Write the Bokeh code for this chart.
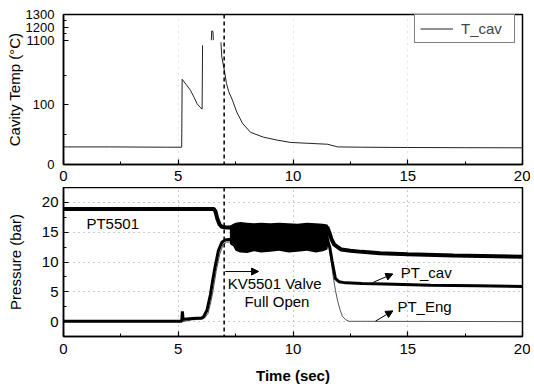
import numpy as np
from bokeh.plotting import figure
from bokeh.layouts import column
from bokeh.models import FixedTicker, Span, Label, Arrow, NormalHead, Legend, LegendItem
from bokeh.embed import file_html
from bokeh.resources import INLINE

nan = float("nan")

# ---------------- data ----------------
# Top panel: cavity temperature (deg C); nan = line hidden in the axis break
temp_time = [0.0, 2.0, 4.5, 5.15, 5.17, 5.35, 5.53, 5.7, 5.82, 5.95, 6.04, 6.06, 6.2,
             6.44, 6.46, 6.51, 6.53, 6.7,
             6.86, 6.9, 7.0, 7.1, 7.2, 7.36, 7.55, 7.8, 8.15, 8.7, 9.3, 9.9, 10.7,
             11.5, 11.95, 13.0, 15.0, 17.5, 20.0]
temp_cav = [29.5, 29.5, 29.0, 29.0, 143.0, 134.0, 124.7, 112.0, 102.0, 96.0, 93.0, 200.0, nan,
            1095.0, 1172.0, 1170.0, 1095.0, nan,
            205.0, 180.0, 160.0, 136.0, 122.0, 108.0, 88.0, 69.0, 54.0, 46.0, 41.0, 37.0, 35.5,
            34.0, 29.5, 29.0, 28.5, 28.2, 28.0]

# Bottom panel: pressures (bar)
pt5501_time = [0.0, 6.55, 6.62, 6.7, 6.8, 6.9, 7.1, 7.3, 9.0, 11.5, 11.58, 11.68, 11.8,
               11.95, 12.1, 12.5, 13.0, 13.8, 15.0, 17.0, 20.0]
pt5501 = [18.9, 18.9, 18.5, 17.3, 16.3, 15.9, 15.8, 15.8, 15.8, 15.8, 15.0, 13.8, 12.9,
          12.5, 12.1, 11.9, 11.7, 11.45, 11.3, 11.1, 10.9]

ptcav_time = [0.0, 5.15, 5.18, 5.21, 5.26, 5.6, 6.0, 6.1, 6.25, 6.4, 6.5, 6.6, 6.75, 6.9,
              7.05, 7.3, 9.0, 11.5, 11.6, 11.7, 11.85, 12.0, 12.3, 13.0, 14.0, 16.0, 18.0, 20.0]
pt_cav = [0.05, 0.05, 1.7, 0.4, 0.4, 0.5, 0.6, 0.8, 1.9, 4.5, 6.9, 9.1, 11.9, 13.3,
          13.7, 13.8, 13.8, 13.8, 12.5, 10.2, 7.2, 6.7, 6.5, 6.4, 6.3, 6.1, 6.0, 5.9]

pteng_time = [0.0, 5.2, 5.6, 6.05, 6.15, 6.3, 6.45, 6.55, 6.65, 6.8, 6.95, 7.1, 7.3, 9.0,
              11.5, 11.58, 11.65, 11.75, 11.85, 11.95, 12.05, 12.15, 12.3, 12.45, 20.0]
pt_eng = [0.0, 0.0, 0.3, 0.4, 0.6, 1.4, 3.8, 6.0, 8.4, 11.2, 12.9, 13.3, 13.4, 13.4,
          13.4, 12.3, 10.5, 7.6, 5.2, 3.4, 2.0, 0.9, 0.3, 0.05, 0.0]

# oscillation envelope while the valve is open
band_time = [7.25, 7.4, 7.5, 7.7, 8.0, 8.3, 8.6, 9.0, 9.4, 9.8, 10.2, 10.6, 11.0, 11.3, 11.5, 11.56]
band_high = [16.1, 16.4, 16.6, 16.7, 16.6, 16.5, 16.6, 16.5, 16.6, 16.5, 16.4, 16.6, 16.5, 16.4, 16.3, 15.8]
band_low = [13.0, 12.6, 11.9, 11.6, 11.5, 11.8, 11.6, 11.7, 11.9, 11.6, 11.7, 11.9, 11.6, 11.8, 12.1, 13.5]

x_ticks = [0, 5, 10, 15, 20]
x_minor = [2.5, 7.5, 12.5, 17.5]
temp_low_ticks = [0, 100]
temp_low_minor = [50, 150]
temp_high_ticks = [1100, 1200, 1300]
temp_high_minor = [1150, 1250]
p_ticks = [0, 5, 10, 15, 20]
p_minor = [2.5, 7.5, 12.5, 17.5]
valve_time = 7.0

FONT = "Liberation Sans"

# ---------------- broken temperature axis ----------------
LOW_TOP = 205.0      # top of lower segment
HIGH_BASE = 1100.0   # bottom of upper segment
HIGH_DISP = 208.6    # axis position of 1100
HIGH_SCALE = 0.2155  # compression of upper segment


def to_axis(v):
    v = np.asarray(v, dtype=float)
    mid = LOW_TOP + (v - LOW_TOP) / (HIGH_BASE - LOW_TOP) * (HIGH_DISP - LOW_TOP)
    return np.where(v <= LOW_TOP, v,
                    np.where(v >= HIGH_BASE, HIGH_DISP + (v - HIGH_BASE) * HIGH_SCALE, mid))


def style(p, label_standoff, label_size):
    p.outline_line_color = "black"
    p.outline_line_width = 1.5
    p.background_fill_color = "white"
    p.border_fill_color = "white"
    for ax in p.axis:
        ax.axis_line_color = "black"
        ax.axis_line_width = 1.5
        ax.major_tick_in = 5
        ax.major_tick_out = 0
        ax.minor_tick_in = 3
        ax.minor_tick_out = 0
        ax.major_tick_line_color = "black"
        ax.minor_tick_line_color = "black"
        ax.major_tick_line_width = 1.2
        ax.major_label_text_font = FONT
        ax.major_label_text_font_size = "15px"
        ax.major_label_text_color = "black"
        ax.axis_label_text_font = FONT
        ax.axis_label_text_font_size = "15px"
        ax.axis_label_text_font_style = "normal"
        ax.axis_label_text_color = "black"
    p.yaxis.major_label_text_font_size = label_size
    p.yaxis.major_label_standoff = label_standoff


W = 530
LEFT = 63
RIGHT = 8

# ---------------- top figure ----------------
ymax_top = float(to_axis(1300))
p1 = figure(width=W, height=187, x_range=(0, 20), y_range=(0, ymax_top),
            output_backend="svg", toolbar_location=None,
            min_border_left=LEFT, min_border_right=RIGHT, min_border_top=14, min_border_bottom=23)
style(p1, 9, "13px")
p1.xaxis.major_label_standoff = 6
p1.xaxis.ticker = FixedTicker(ticks=x_ticks, minor_ticks=x_minor)
major_pos = [float(v) for v in to_axis(temp_low_ticks + temp_high_ticks)]
minor_pos = [float(v) for v in to_axis(temp_low_minor + temp_high_minor)]
p1.yaxis.ticker = FixedTicker(ticks=major_pos, minor_ticks=minor_pos)
p1.yaxis.major_label_overrides = {pos: str(val) for val, pos in
                                  zip(temp_low_ticks + temp_high_ticks, major_pos)}
p1.yaxis.axis_label = "Cavity Temp (°C)"
p1.yaxis.axis_label_standoff = 0
p1.xgrid.grid_line_color = "#cccccc"
p1.ygrid.grid_line_color = None
p1.xgrid.grid_line_dash = "1 5"

r_t = p1.line(temp_time, list(to_axis(temp_cav)), line_color="#222222", line_width=1)
p1.add_layout(Span(location=valve_time, dimension="height", line_color="black",
                   line_dash="4 3", line_width=1.5))
leg = Legend(items=[LegendItem(label="T_cav", renderers=[r_t])], location=(351, 121),
             padding=5, margin=0, glyph_width=33, glyph_height=15, label_standoff=8,
             label_width=48, label_height=15, label_text_font=FONT,
             label_text_font_size="15px", border_line_color="black", border_line_width=1,
             background_fill_color="white", background_fill_alpha=1)
p1.add_layout(leg)

# ---------------- bottom figure ----------------
p2 = figure(width=W, height=200, x_range=(0, 20), y_range=(-2.5, 22.5),
            output_backend="svg", toolbar_location=None,
            min_border_left=LEFT, min_border_right=RIGHT, min_border_top=0, min_border_bottom=51)
style(p2, 5, "15px")
p2.xaxis.major_label_standoff = 7
p2.xaxis.ticker = FixedTicker(ticks=x_ticks, minor_ticks=x_minor)
p2.yaxis.ticker = FixedTicker(ticks=p_ticks, minor_ticks=p_minor)
p2.xaxis.axis_label = "Time (sec)"
p2.xaxis.axis_label_text_font_style = "bold"
p2.xaxis.axis_label_standoff = 10
p2.yaxis.axis_label = "Pressure (bar)"
p2.yaxis.axis_label_standoff = 15
p2.grid.grid_line_color = "#999999"
p2.grid.grid_line_dash = "1 4"

p2.line(pteng_time, pt_eng, line_color="#555555", line_width=1)
p2.line(ptcav_time, pt_cav, line_color="black", line_width=3)
p2.line(pt5501_time, pt5501, line_color="black", line_width=4)
p2.varea(x=band_time, y1=band_low, y2=band_high, fill_color="black")
p2.add_layout(Span(location=valve_time, dimension="height", line_color="black",
                   line_dash="4 3", line_width=1.5))


def lab(p, x, y, text, align="left"):
    p.add_layout(Label(x=x, y=y, text=text, text_align=align, text_baseline="middle",
                       text_font=FONT, text_font_size="15px", text_color="black"))


def arrow(p, x0, y0, x1, y1):
    p.add_layout(Arrow(end=NormalHead(size=7, fill_color="black", line_color="black"),
                       x_start=x0, y_start=y0, x_end=x1, y_end=y1,
                       line_color="black", line_width=1))


lab(p2, 1.0, 16.5, "PT5501")
lab(p2, 9.2, 6.4, "KV5501 Valve", "center")
lab(p2, 9.3, 3.4, "Full Open", "center")
lab(p2, 14.7, 8.2, "PT_cav")
lab(p2, 14.55, 2.6, "PT_Eng")
arrow(p2, 7.05, 8.4, 8.5, 8.4)
arrow(p2, 13.5, 6.6, 14.35, 8.0)
arrow(p2, 13.6, 0.1, 14.35, 1.8)

layout = column(p1, p2, spacing=0)
open("out.html", "w").write(file_html(layout, INLINE))
